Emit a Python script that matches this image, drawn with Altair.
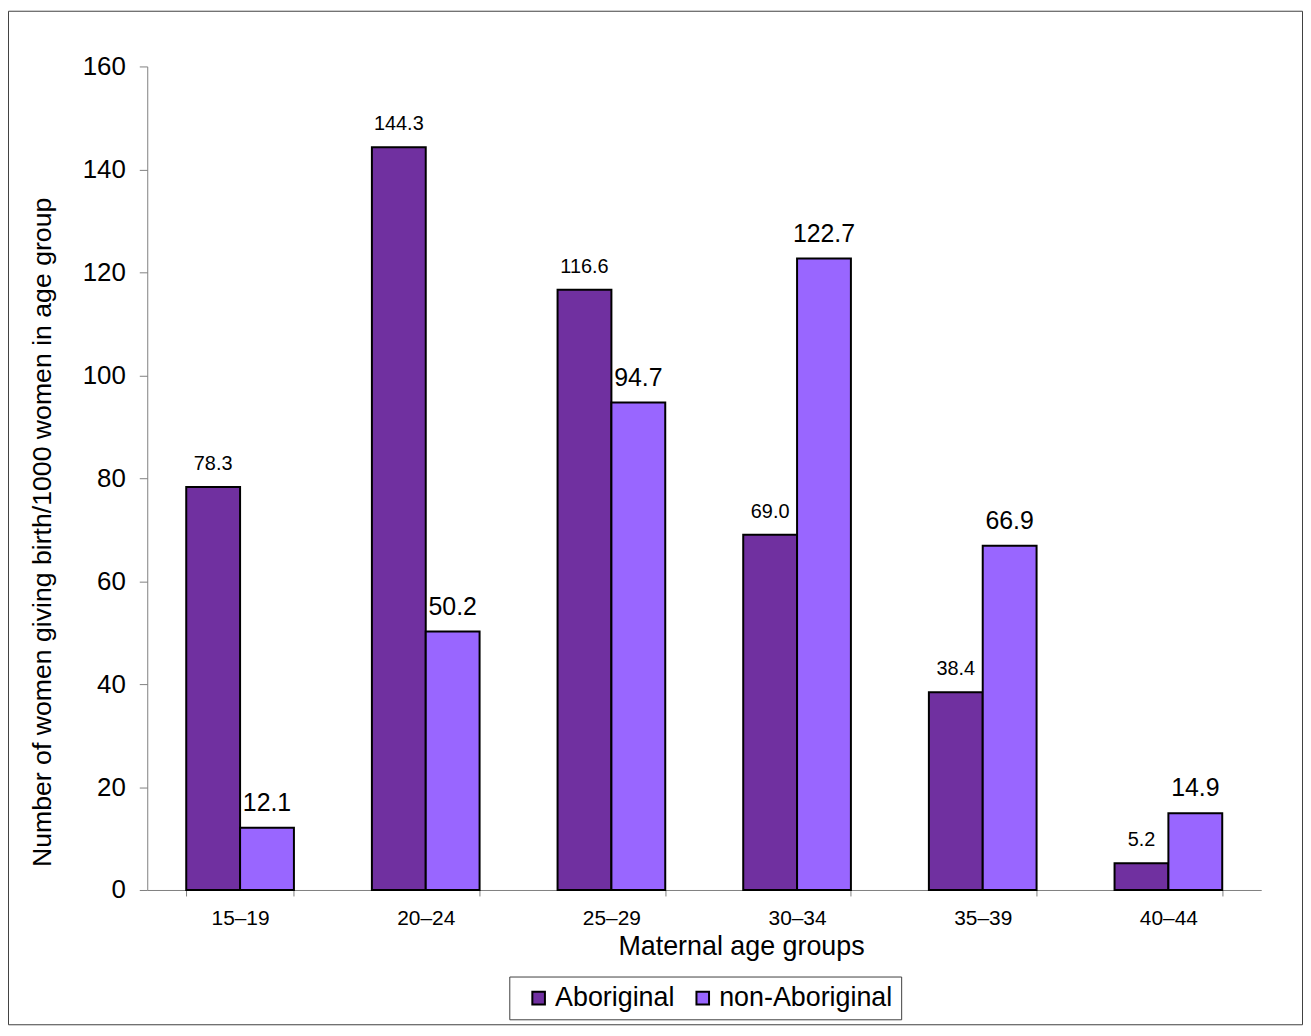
import altair as alt
import pandas as pd

ages = ["15–19", "20–24", "25–29", "30–34", "35–39", "40–44"]
aboriginal = [78.3, 144.3, 116.6, 69.0, 38.4, 5.2]
non_aboriginal = [12.1, 50.2, 94.7, 122.7, 66.9, 14.9]
series = ["Aboriginal", "non-Aboriginal"]
colors = ["#7030A0", "#9966FF"]

rows = []
for a, v1, v2 in zip(ages, aboriginal, non_aboriginal):
    rows.append({"age": a, "group": series[0], "value": v1, "label": f"{v1:.1f}"})
    rows.append({"age": a, "group": series[1], "value": v2, "label": f"{v2:.1f}"})
df = pd.DataFrame(rows)

W, H = 1120, 828
FONT = "Liberation Sans"

x = alt.X("age:N", sort=ages, title="Maternal age groups",
          scale=alt.Scale(paddingInner=0.42, paddingOuter=0.21),
          axis=alt.Axis(labelAngle=0, labelFontSize=21, titleFontSize=27,
                        titleFontWeight="normal",
                        labelFont=FONT, titleFont=FONT, labelColor="black",
                        titleColor="black", tickBand="extent", tickSize=6,
                        domainColor="#808080", tickColor="#808080",
                        labelPadding=12,
                        titleX=597, titleY=65, titleBaseline="alphabetic"))
xo = alt.XOffset("group:N", sort=series)
y = alt.Y("value:Q", title="Number of women giving birth/1000 women in age group",
          scale=alt.Scale(domain=[0, 160], nice=False),
          axis=alt.Axis(values=list(range(0, 161, 20)), grid=False, labelFontSize=26,
                        titleFontSize=26.8, titleFontWeight="normal",
                        labelFont=FONT, titleFont=FONT,
                        labelColor="black", titleColor="black", tickSize=8,
                        domainColor="#808080", tickColor="#808080",
                        labelPadding=14,
                        titleX=-91, titleY=468, titleBaseline="bottom"))

base = alt.Chart(df)

bars = base.mark_bar(stroke="black", strokeWidth=2).encode(
    x=x, xOffset=xo, y=y,
    color=alt.Color("group:N", sort=series,
                    scale=alt.Scale(domain=series, range=colors),
                    legend=alt.Legend(title=None, orient="none", legendX=364, legendY=915,
                                      direction="horizontal", labelFontSize=27,
                                      labelFont=FONT, labelColor="black", labelLimit=400,
                                      symbolType="square", symbolSize=160,
                                      symbolStrokeColor="black", symbolStrokeWidth=2,
                                      symbolOffset=8,
                                      strokeColor="#404040", padding=8,
                                      columnPadding=6, labelOffset=3)),
)

lab1 = base.transform_filter(alt.datum.group == series[0]).mark_text(
    font=FONT, fontSize=20, dy=-13, baseline="bottom", color="black").encode(
    x=alt.X("age:N", sort=ages), xOffset=xo, y="value:Q", text="label:N")
lab2 = base.transform_filter(alt.datum.group == series[1]).mark_text(
    font=FONT, fontSize=25, dy=-12, baseline="bottom", color="black").encode(
    x=alt.X("age:N", sort=ages), xOffset=xo, y="value:Q", text="label:N")

frame = alt.Chart(pd.DataFrame({"k": [0]})).mark_rect(
    fill=None, stroke="#404040", strokeWidth=1).encode(
    x=alt.value(-139.5), x2=alt.value(W + 41.5),
    y=alt.value(-55.5), y2=alt.value(H + 135.5))

chart = alt.layer(frame, bars, lab1, lab2).properties(
    width=W, height=H,
    autosize=alt.AutoSizeParams(type="none"),
    padding={"left": 140, "top": 56, "right": 42, "bottom": 136},
).configure(background="white").configure_view(stroke=None)

chart.save("out.html", embed_options={"renderer": "svg", "actions": False})
